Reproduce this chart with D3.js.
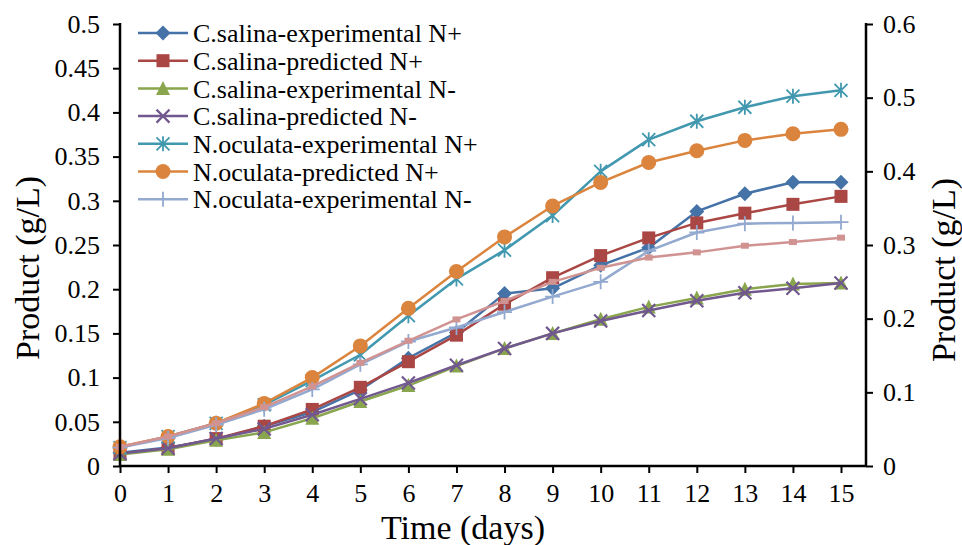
<!DOCTYPE html>
<html>
<head>
<meta charset="utf-8">
<script src="https://cdn.jsdelivr.net/npm/d3@7"></script>
<style>
  body { margin: 0; background: #fff; }
  svg text { font-family: 'Liberation Serif', 'Times New Roman', serif; fill: #000; }
</style>
</head>
<body>
<div class="chart"></div>
<script>
const days = d3.range(0, 16);
const leftTicks = [0, 0.05, 0.1, 0.15, 0.2, 0.25, 0.3, 0.35, 0.4, 0.45, 0.5];
const rightTicks = [0, 0.1, 0.2, 0.3, 0.4, 0.5, 0.6];

// C.salina series, left axis
const csExpNp = [0.015, 0.021, 0.030, 0.045, 0.061, 0.086, 0.122, 0.151, 0.195, 0.201, 0.227, 0.247, 0.288, 0.308, 0.321, 0.321];
const csPredNp = [0.014, 0.020, 0.031, 0.045, 0.064, 0.089, 0.118, 0.148, 0.183, 0.213, 0.238, 0.258, 0.275, 0.286, 0.296, 0.305];
const csExpNm = [0.013, 0.019, 0.029, 0.038, 0.054, 0.073, 0.091, 0.113, 0.133, 0.150, 0.166, 0.180, 0.190, 0.200, 0.206, 0.207];
const csPredNm = [0.014, 0.020, 0.031, 0.042, 0.058, 0.076, 0.094, 0.114, 0.133, 0.150, 0.164, 0.176, 0.187, 0.196, 0.201, 0.207];

// N.oculata series, right axis
const noExpNp = [0.025, 0.040, 0.058, 0.083, 0.116, 0.151, 0.204, 0.254, 0.293, 0.340, 0.400, 0.443, 0.468, 0.487, 0.502, 0.510];
const noPredNp = [0.026, 0.040, 0.058, 0.085, 0.120, 0.163, 0.214, 0.264, 0.311, 0.353, 0.385, 0.412, 0.428, 0.442, 0.451, 0.457];
const noExpNm = [0.025, 0.038, 0.056, 0.077, 0.104, 0.138, 0.169, 0.188, 0.209, 0.230, 0.250, 0.292, 0.317, 0.329, 0.330, 0.331];
const noPredNm = [0.026, 0.040, 0.058, 0.080, 0.108, 0.140, 0.170, 0.199, 0.224, 0.250, 0.269, 0.283, 0.290, 0.299, 0.304, 0.310];

const series = [
    { name: 'C.salina-experimental N+', values: csExpNp, axis: 'left', color: '#4572A7', marker: 'diamond', legend: true },
    { name: 'C.salina-predicted N+', values: csPredNp, axis: 'left', color: '#AA4643', marker: 'square', legend: true },
    { name: 'C.salina-experimental N-', values: csExpNm, axis: 'left', color: '#89A54E', marker: 'triangle', legend: true },
    { name: 'C.salina-predicted N-', values: csPredNm, axis: 'left', color: '#71588F', marker: 'x', legend: true },
    { name: 'N.oculata-experimental N+', values: noExpNp, axis: 'right', color: '#4198AF', marker: 'star', legend: true },
    { name: 'N.oculata-predicted N+', values: noPredNp, axis: 'right', color: '#DB843D', marker: 'circle', legend: true },
    { name: 'N.oculata-experimental N-', values: noExpNm, axis: 'right', color: '#93A9CF', marker: 'plus', legend: true },
    { name: 'N.oculata-predicted N-', values: noPredNm, axis: 'right', color: '#D19392', marker: 'smallsquare', legend: false }
];

const width = 962;
const height = 545;
const plotLeft = 120;
const plotRight = 866;
const plotTop = 24;
const plotBottom = 466;

const x = d3.scaleLinear().domain([0, 15]).range([plotLeft, 841]);
const yLeft = d3.scaleLinear().domain([0, 0.5]).range([plotBottom, plotTop]);
const yRight = d3.scaleLinear().domain([0, 0.6]).range([plotBottom, plotTop]);

const svg = d3.select('.chart')
    .append('svg')
    .attr('width', width)
    .attr('height', height);

// markers
function drawMarker(g, type, color) {
    const s = 6.5;
    if (type === 'diamond') {
        g.append('path').attr('d', `M0,${-s - 1}L${s + 1},0L0,${s + 1}L${-s - 1},0Z`).attr('fill', color);
    } else if (type === 'square') {
        g.append('rect').attr('x', -s).attr('y', -s).attr('width', 2 * s).attr('height', 2 * s).attr('fill', color);
    } else if (type === 'smallsquare') {
        g.append('rect').attr('x', -4).attr('y', -3).attr('width', 8).attr('height', 6).attr('fill', color);
    } else if (type === 'triangle') {
        g.append('path').attr('d', `M0,${-s - 1}L${s + 0.5},${s}L${-s - 0.5},${s}Z`).attr('fill', color);
    } else if (type === 'circle') {
        g.append('circle').attr('r', s + 1).attr('fill', color);
    } else if (type === 'x') {
        g.append('path').attr('d', `M${-s},${-s}L${s},${s}M${s},${-s}L${-s},${s}`)
            .attr('stroke', color).attr('stroke-width', 2.2).attr('fill', 'none');
    } else if (type === 'star') {
        g.append('path').attr('d', `M${-s},${-s}L${s},${s}M${s},${-s}L${-s},${s}M0,${-s - 1}L0,${s + 1}`)
            .attr('stroke', color).attr('stroke-width', 1.8).attr('fill', 'none');
    } else if (type === 'plus') {
        g.append('path').attr('d', `M${-s - 1},0L${s + 1},0M0,${-s - 1}L0,${s + 1}`)
            .attr('stroke', color).attr('stroke-width', 1.8).attr('fill', 'none');
    }
}

const line = d3.line();

series.forEach(sr => {
    const y = sr.axis === 'left' ? yLeft : yRight;
    const pts = sr.values.map((v, i) => [x(days[i]), y(v)]);
    const g = svg.append('g').attr('class', 'series');
    g.append('path')
        .attr('d', line(pts))
        .attr('fill', 'none')
        .attr('stroke', sr.color)
        .attr('stroke-width', 2.5)
        .attr('stroke-linejoin', 'round');
    g.selectAll('g.m')
        .data(pts)
        .enter()
        .append('g')
        .attr('class', 'm')
        .attr('transform', d => `translate(${d[0]},${d[1]})`)
        .each(function () { drawMarker(d3.select(this), sr.marker, sr.color); });
});

// axes
const fmt = d => (d === 0 ? '0' : String(+d.toFixed(2)));

const axisLeft = svg.append('g')
    .attr('transform', `translate(${plotLeft},0)`)
    .call(d3.axisLeft(yLeft).tickValues(leftTicks).tickFormat(fmt).tickSize(7).tickPadding(13));

const axisRight = svg.append('g')
    .attr('transform', `translate(${plotRight},0)`)
    .call(d3.axisRight(yRight).tickValues(rightTicks).tickFormat(fmt).tickSize(7).tickPadding(10));

const axisBottom = svg.append('g')
    .attr('transform', `translate(0,${plotBottom})`)
    .call(d3.axisBottom(x).tickValues(days).tickFormat(d3.format('d')).tickSize(7).tickPadding(11));

[axisLeft, axisRight, axisBottom].forEach(a => {
    a.select('.domain').remove();
    a.selectAll('line').attr('stroke', '#000').attr('stroke-width', 2);
    a.selectAll('text').style('font-size', '26px').style('font-family', "'Liberation Serif', serif");
});

// axis lines
svg.append('line').attr('x1', plotLeft).attr('x2', plotLeft).attr('y1', plotTop - 1).attr('y2', plotBottom + 1)
    .attr('stroke', '#000').attr('stroke-width', 2.5);
svg.append('line').attr('x1', plotRight).attr('x2', plotRight).attr('y1', plotTop - 1).attr('y2', plotBottom + 1)
    .attr('stroke', '#000').attr('stroke-width', 2.5);
svg.append('line').attr('x1', plotLeft).attr('x2', plotRight).attr('y1', plotBottom).attr('y2', plotBottom)
    .attr('stroke', '#000').attr('stroke-width', 2.5);

// titles
svg.append('text')
    .attr('x', 463)
    .attr('y', 539)
    .attr('text-anchor', 'middle')
    .style('font-size', '34px')
    .text('Time (days)');

svg.append('text')
    .attr('transform', `translate(39,268) rotate(-90)`)
    .attr('text-anchor', 'middle')
    .style('font-size', '34px')
    .text('Product (g/L)');

svg.append('text')
    .attr('transform', `translate(955,270) rotate(-90)`)
    .attr('text-anchor', 'middle')
    .style('font-size', '34px')
    .text('Product (g/L)');

// legend
const legend = svg.append('g').attr('class', 'legend');
const legendItems = series.filter(s => s.legend);
legendItems.forEach((sr, i) => {
    const ly = 33 + i * 27.7;
    const g = legend.append('g');
    g.append('line').attr('x1', 138).attr('x2', 188).attr('y1', ly).attr('y2', ly)
        .attr('stroke', sr.color).attr('stroke-width', 2.5);
    drawMarker(g.append('g').attr('transform', `translate(163,${ly})`), sr.marker, sr.color);
    g.append('text')
        .attr('x', 193)
        .attr('y', ly)
        .attr('dy', '0.35em')
        .style('font-size', '26px')
        .text(sr.name);
});
</script>
</body>
</html>
